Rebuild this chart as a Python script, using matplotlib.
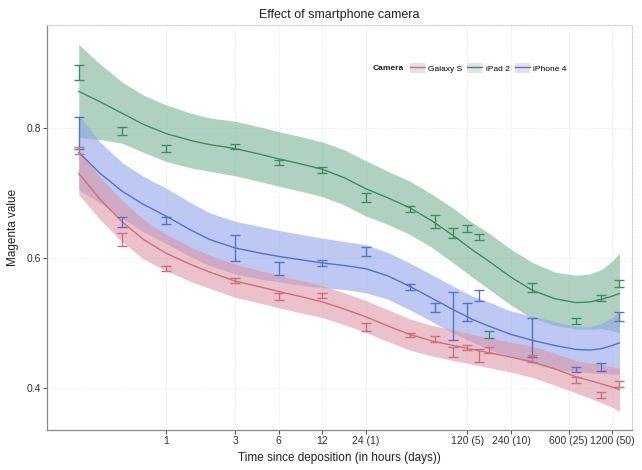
import numpy as np
import matplotlib
matplotlib.use("Agg")
import matplotlib.pyplot as plt
from matplotlib.patches import Rectangle
from matplotlib.lines import Line2D

plt.rcParams['font.family'] = ['Liberation Sans', 'DejaVu Sans']

# ---------------- data ----------------
cameras = ["Galaxy S", "iPad 2", "iPhone 4"]

# measured points (hours since deposition)
t_galaxy = [0.25, 0.5, 1, 3, 6, 12, 24, 48, 72, 96, 120, 144, 168, 336, 672, 1008, 1344]
m_galaxy = [0.765, 0.628, 0.583, 0.565, 0.540, 0.542, 0.494, 0.481, 0.475, 0.455, 0.462,
            0.449, 0.458, 0.445, 0.412, 0.389, 0.406]
e_galaxy = [0.006, 0.010, 0.004, 0.004, 0.005, 0.004, 0.006, 0.003, 0.004, 0.007, 0.004,
            0.010, 0.004, 0.005, 0.005, 0.005, 0.005]

t_ipad = [0.25, 0.5, 1, 3, 6, 12, 24, 48, 72, 96, 120, 144, 168, 336, 672, 1008, 1344]
m_ipad = [0.885, 0.795, 0.768, 0.771, 0.746, 0.735, 0.692, 0.675, 0.655, 0.638, 0.645,
          0.632, 0.482, 0.554, 0.503, 0.538, 0.560]
e_ipad = [0.011, 0.006, 0.005, 0.004, 0.004, 0.005, 0.007, 0.004, 0.010, 0.007, 0.005,
          0.005, 0.005, 0.007, 0.005, 0.005, 0.005]

t_iphone = [0.25, 0.5, 1, 3, 6, 12, 24, 48, 72, 96, 120, 144, 336, 672, 1008, 1344]
m_iphone = [0.792, 0.655, 0.657, 0.615, 0.583, 0.592, 0.610, 0.555, 0.523, 0.510, 0.517,
            0.542, 0.478, 0.428, 0.432, 0.509]
e_iphone = [0.025, 0.008, 0.005, 0.020, 0.010, 0.004, 0.007, 0.004, 0.007, 0.037, 0.014,
            0.008, 0.030, 0.004, 0.006, 0.007]

# smoothed fit and confidence band
t_fit = [0.25, 0.35, 0.5, 0.7, 1, 1.5, 2, 3, 4.5, 6, 9, 12, 17, 24, 34, 48, 68, 96,
         130, 168, 240, 336, 480, 672, 840, 1008, 1200, 1344]

fit_galaxy = [0.730, 0.690, 0.655, 0.628, 0.607, 0.589, 0.578, 0.564, 0.555, 0.548, 0.539,
              0.532, 0.521, 0.509, 0.495, 0.482, 0.472, 0.465, 0.459, 0.454, 0.447, 0.440,
              0.429, 0.417, 0.411, 0.406, 0.401, 0.397]
hi_galaxy = [0.765, 0.724, 0.688, 0.659, 0.636, 0.616, 0.604, 0.590, 0.580, 0.573, 0.564,
             0.557, 0.546, 0.534, 0.520, 0.506, 0.496, 0.489, 0.482, 0.477, 0.470, 0.464,
             0.453, 0.442, 0.438, 0.436, 0.432, 0.430]
lo_galaxy = [0.697, 0.659, 0.624, 0.598, 0.580, 0.563, 0.553, 0.539, 0.530, 0.523, 0.514,
             0.508, 0.497, 0.485, 0.471, 0.458, 0.449, 0.442, 0.436, 0.431, 0.424, 0.416,
             0.404, 0.392, 0.384, 0.377, 0.370, 0.364]

fit_ipad = [0.856, 0.840, 0.822, 0.805, 0.791, 0.780, 0.774, 0.768, 0.759, 0.752, 0.743,
            0.736, 0.723, 0.706, 0.692, 0.677, 0.657, 0.634, 0.612, 0.595, 0.570, 0.550,
            0.537, 0.531, 0.532, 0.536, 0.541, 0.545]
hi_ipad = [0.928, 0.898, 0.870, 0.850, 0.835, 0.822, 0.815, 0.810, 0.801, 0.794, 0.785,
           0.778, 0.766, 0.749, 0.733, 0.718, 0.698, 0.676, 0.654, 0.638, 0.613, 0.593,
           0.578, 0.573, 0.575, 0.582, 0.595, 0.607]
lo_ipad = [0.785, 0.782, 0.776, 0.762, 0.748, 0.738, 0.733, 0.726, 0.717, 0.710, 0.701,
           0.694, 0.681, 0.664, 0.651, 0.636, 0.616, 0.592, 0.570, 0.552, 0.527, 0.507,
           0.496, 0.490, 0.490, 0.491, 0.488, 0.484]

fit_iphone = [0.762, 0.730, 0.702, 0.682, 0.664, 0.642, 0.628, 0.615, 0.607, 0.602, 0.596,
              0.592, 0.588, 0.583, 0.572, 0.556, 0.538, 0.520, 0.505, 0.495, 0.482, 0.473,
              0.465, 0.459, 0.458, 0.460, 0.465, 0.469]
hi_iphone = [0.820, 0.778, 0.746, 0.725, 0.707, 0.684, 0.669, 0.656, 0.648, 0.642, 0.635,
             0.630, 0.625, 0.620, 0.608, 0.592, 0.574, 0.556, 0.541, 0.532, 0.518, 0.510,
             0.502, 0.494, 0.494, 0.499, 0.508, 0.517]
lo_iphone = [0.705, 0.684, 0.660, 0.640, 0.622, 0.601, 0.588, 0.575, 0.567, 0.563, 0.557,
             0.554, 0.551, 0.546, 0.536, 0.520, 0.502, 0.484, 0.470, 0.459, 0.447, 0.437,
             0.429, 0.424, 0.423, 0.422, 0.421, 0.420]

x_ticks = [1, 3, 6, 12, 24, 120, 240, 600, 1200]
x_ticklabels = ["1", "3", "6", "12", "24 (1)", "120 (5)", "240 (10)", "600 (25)", "1200 (50)"]
y_ticks = [0.4, 0.6, 0.8]

# ---------------- styling ----------------
line_col = {"Galaxy S": "#cf6f7c", "iPad 2": "#3f8c63", "iPhone 4": "#5a6fc6"}
band_col = {"Galaxy S": "#de94a6", "iPad 2": "#76b293", "iPhone 4": "#8ea2ea"}

series = {
    "Galaxy S": (t_galaxy, m_galaxy, e_galaxy, fit_galaxy, lo_galaxy, hi_galaxy),
    "iPad 2": (t_ipad, m_ipad, e_ipad, fit_ipad, lo_ipad, hi_ipad),
    "iPhone 4": (t_iphone, m_iphone, e_iphone, fit_iphone, lo_iphone, hi_iphone),
}

fig = plt.figure(figsize=(6.42, 4.70), dpi=100)
ax = fig.add_axes([47/642, 1-430/470, (632-47)/642, (430-25)/470])

for name in ["iPad 2", "iPhone 4", "Galaxy S"]:
    t, m, e, f, lo, hi = series[name]
    ax.fill_between(t_fit, lo, hi, color=band_col[name], alpha=0.58, linewidth=0, zorder=2)

for name in ["iPad 2", "iPhone 4", "Galaxy S"]:
    t, m, e, f, lo, hi = series[name]
    ax.plot(t_fit, f, color=line_col[name], lw=1.0, zorder=3, solid_joinstyle='round')
    ax.errorbar(t, m, yerr=e, fmt='none', ecolor=line_col[name], elinewidth=1.0,
                capsize=3.5, capthick=1.0, zorder=4)

ax.set_xscale('log')
ax.set_xlim(0.151, 1640)
ax.set_ylim(0.335, 0.958)
ax.set_xticks(x_ticks)
ax.set_xticklabels(x_ticklabels)
ax.xaxis.set_minor_locator(matplotlib.ticker.NullLocator())
ax.set_yticks(y_ticks)
ax.set_yticklabels(["0.4", "0.6", "0.8"])

ax.tick_params(axis='both', which='major', length=3, width=0.8, color='#555555',
               labelsize=7.5, labelcolor='#333333', pad=1.5)

for sp in ['top', 'right']:
    ax.spines[sp].set_color('#cccccc')
    ax.spines[sp].set_linestyle((0, (1, 1.5)))
    ax.spines[sp].set_linewidth(0.8)
for sp in ['left', 'bottom']:
    ax.spines[sp].set_color('#888888')
    ax.spines[sp].set_linewidth(0.9)

ax.grid(True, which='major', color='#dddddd', linestyle=(0, (1, 2)), linewidth=0.6, zorder=0)
ax.set_axisbelow(True)

ax.set_title("Effect of smartphone camera", fontsize=9, color='#222222', pad=5)
ax.set_xlabel("Time since deposition (in hours (days))", fontsize=8.5, color='#222222', labelpad=4)
ax.set_ylabel("Magenta value", fontsize=8.5, color='#222222', labelpad=5)

# legend
handles = []
for name in cameras:
    box = Rectangle((0, 0), 1, 1, facecolor='#e4e1ea', edgecolor='none')
    ln = Line2D([], [], color=line_col[name], lw=1.0)
    handles.append((box, ln))
leg = ax.legend(handles, cameras, ncol=3, loc='center left',
                bbox_to_anchor=((410-47)/585, 1-(68-25)/405),
                frameon=False, fontsize=6, handlelength=1.8, handleheight=1.5,
                handletextpad=0.4, columnspacing=0.6, borderaxespad=0, borderpad=0)
fig.text(373/642, 1-68/470, "Camera", fontsize=6, fontweight='bold', color='#222222',
         va='center', ha='left')

fig.savefig("out.png", dpi=100)
